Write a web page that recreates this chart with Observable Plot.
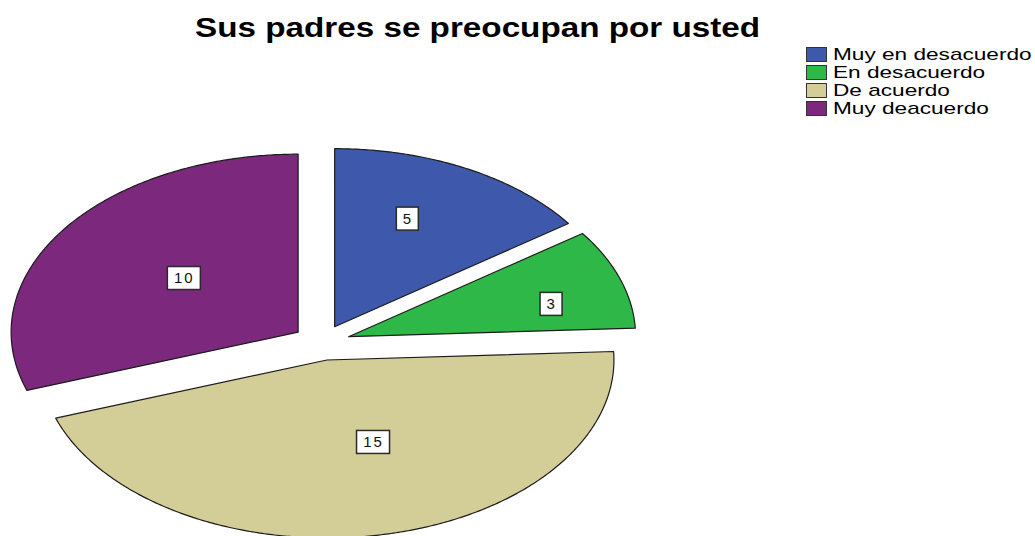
<!DOCTYPE html>
<html>
<head>
<meta charset="utf-8">
<script src="https://cdn.jsdelivr.net/npm/d3@7"></script>
<script src="https://cdn.jsdelivr.net/npm/@observablehq/plot@0.6"></script>
<style>
  html, body { margin: 0; padding: 0; background: #fff; }
  #wrap { position: relative; width: 1035px; height: 536px; overflow: hidden; font-family: "Liberation Sans", Arial, sans-serif; }
  #chart { position: absolute; left: 0; top: 0; }
  #title { position: absolute; left: 195px; top: 14px; font-size: 28px; line-height: 28px; font-weight: bold; color: #000; white-space: nowrap; transform-origin: 0 0; transform: scaleX(1.187); }
  #legend { position: absolute; left: 806px; top: 46px; }
  .row { position: relative; height: 18px; }
  .sw { position: absolute; left: 0; top: 1px; width: 19px; height: 13px; border: 1px solid #333; box-sizing: content-box; }
  .lt { position: absolute; left: 27px; top: 0; font-size: 17px; line-height: 18px; color: #000; white-space: nowrap; transform-origin: 0 0; transform: scaleX(1.33); }
</style>
</head>
<body>
<div id="wrap">
  <div id="chart"></div>
  <div id="title"></div>
  <div id="legend"></div>
</div>
<script>
// ---- data ----
const title = "Sus padres se preocupan por usted";
const categories = ["Muy en desacuerdo", "En desacuerdo", "De acuerdo", "Muy deacuerdo"];
const counts = [5, 3, 15, 10];
const colors = ["#3E58AC", "#2EB848", "#D3CE97", "#7C287D"];

// ---- layout ----
const W = 1035, H = 536;
const CX = 321, CY = 342, RX = 287, RY = 178;
const explode = 0.1;
const labelRadius = [0.656, 0.73, 0.491, 0.498];
const labelShiftDeg = [-4.4, 4.7, -8.4, 1.8];

const arcs = d3.pie().sort(null).startAngle(0).endAngle(2 * Math.PI)(counts);

const slicePts = [];
const labels = [];
arcs.forEach((a, i) => {
  const mid = (a.startAngle + a.endAngle) / 2;
  const ox = explode * Math.sin(mid), oy = explode * Math.cos(mid);
  slicePts.push({cat: categories[i], x: ox, y: oy});
  const n = Math.max(2, Math.ceil((a.endAngle - a.startAngle) / (Math.PI / 360)));
  for (let k = 0; k <= n; k++) {
    const t = a.startAngle + (a.endAngle - a.startAngle) * k / n;
    slicePts.push({cat: categories[i], x: ox + Math.sin(t), y: oy + Math.cos(t)});
  }
  const la = mid + labelShiftDeg[i] * Math.PI / 180;
  const lx = ox + labelRadius[i] * Math.sin(la);
  const ly = oy + labelRadius[i] * Math.cos(la);
  const txt = String(counts[i]);
  const hw = (txt.length > 1 ? 16.5 : 11) / RX;
  const hh = 11.5 / RY;
  labels.push({cat: categories[i], text: txt, x: lx, y: ly, x1: lx - hw, x2: lx + hw, y1: ly - hh, y2: ly + hh});
});

const plot = Plot.plot({
  width: W,
  height: H,
  margin: 0,
  x: {domain: [-CX / RX, (W - CX) / RX], axis: null},
  y: {domain: [-(H - CY) / RY, CY / RY], axis: null},
  color: {domain: categories, range: colors},
  style: {background: "transparent", fontFamily: "Liberation Sans, Arial, sans-serif"},
  marks: [
    Plot.line(slicePts, {x: "x", y: "y", z: "cat", fill: "cat", stroke: "#1c1c1c", strokeWidth: 1.2, curve: "linear-closed"}),
    Plot.rect(labels, {x1: "x1", x2: "x2", y1: "y1", y2: "y2", fill: "#fff", stroke: "#2a2a2a", strokeWidth: 1.5}),
    Plot.text(labels, {x: "x", y: "y", text: "text", fontSize: 15, fill: "#111"})
  ]
});
d3.select(plot).selectAll("g[aria-label=text] text").style("letter-spacing", "2px");
document.getElementById("chart").appendChild(plot);

document.getElementById("title").textContent = title;
const leg = document.getElementById("legend");
categories.forEach((c, i) => {
  const row = document.createElement("div");
  row.className = "row";
  const sw = document.createElement("div");
  sw.className = "sw";
  sw.style.background = colors[i];
  const lt = document.createElement("div");
  lt.className = "lt";
  lt.textContent = c;
  row.appendChild(sw);
  row.appendChild(lt);
  leg.appendChild(row);
});
</script>
</body>
</html>
